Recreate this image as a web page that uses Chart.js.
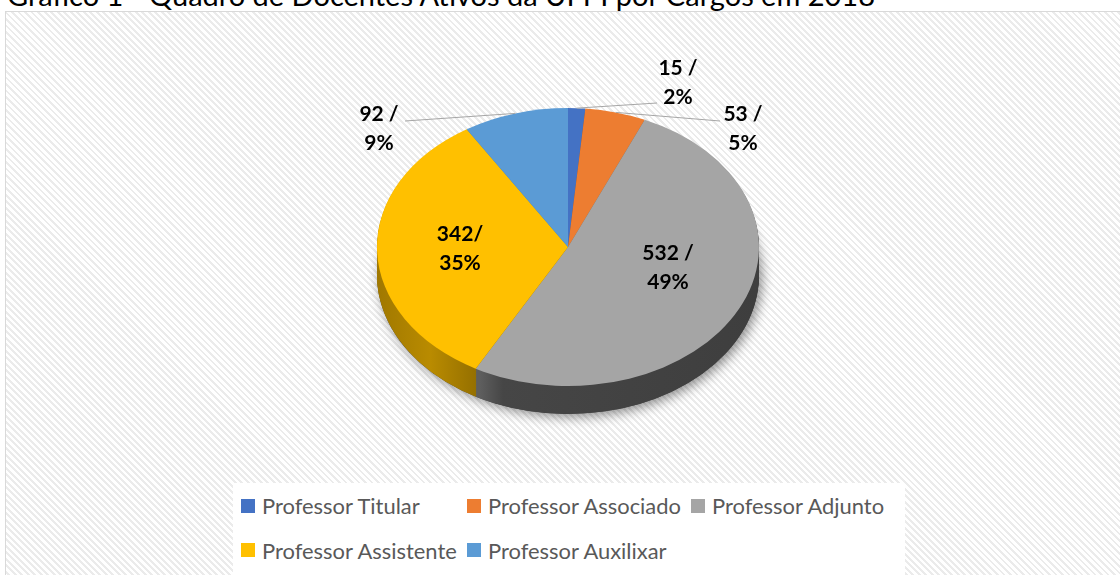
<!DOCTYPE html>
<html><head><meta charset="utf-8">
<script src="https://cdn.jsdelivr.net/npm/chart.js@4.4.1/dist/chart.umd.min.js"></script>
<style>
html,body{margin:0;padding:0;width:1120px;height:575px;overflow:hidden;background:#fff;}
#frame{position:absolute;left:5px;top:11px;width:1130px;height:580px;border:1px solid #d9d9d9;box-sizing:border-box;
background:repeating-linear-gradient(45deg,#ffffff 0px,#ffffff 2.6px,#ebebeb 2.6px,#ebebeb 4.6px);}
#title{position:absolute;left:7px;white-space:nowrap;font-family:Lato,"DejaVu Sans",sans-serif;color:#000;}
#chart{position:absolute;left:0;top:0;}
#legend{position:absolute;left:233px;top:483px;width:672px;height:100px;background:#fff;}
#legend .grid{position:absolute;left:8px;top:0;display:grid;grid-template-columns:auto auto auto;grid-template-rows:45px 44px;column-gap:9px;}
#legend .item{display:flex;align-items:center;white-space:nowrap;color:#595959;font-family:Lato,"DejaVu Sans",sans-serif;}
#legend .mk{display:inline-block;width:14px;height:14px;margin-right:7px;flex:none;}
#legend .tx{display:inline-block;overflow:visible;}
#legend .tx span{display:inline-block;transform-origin:0 50%;}
</style></head>
<body>
<div id="frame"></div>
<div id="title"></div>
<canvas id="chart" width="1120" height="575"></canvas>
<div id="legend"><div class="grid" id="lgrid"></div></div>
<script>
// ---- data ----
const chartTitle = 'Gráfico 1 - Quadro de Docentes Ativos da UFPI por Cargos em 2018';
const categories = ['Professor Titular','Professor Associado','Professor Adjunto','Professor Assistente','Professor Auxilixar'];
const docentes = [15, 53, 532, 342, 92];
const labelCounts = ['15 /', '53 /', '532 /', '342/', '92 /'];
const labelPercents = ['2%', '5%', '49%', '35%', '9%'];
const sliceColors = ['#4472C4', '#ED7D31', '#A5A5A5', '#FFC000', '#5B9BD5'];

// ---- layout / style ----
const PIE = {cx: 568, cy: 247, rx: 191, ry: 139, depth: 28};
const sideStops = [
  [[0,'#2f5597'],[1,'#2f5597']],
  [[0,'#a5531a'],[1,'#a5531a']],
  [[0.27,'#5e5e5e'],[0.33,'#464646'],[1,'#3e3e3e']],
  [[0,'#a07800'],[0.14,'#b98b00'],[0.29,'#8c6900']],
  [[0,'#3f75a8'],[1,'#3f75a8']]
];
const labelLayout = [
  {x: 678, y: 68, lx: 657, ly: 103, leader: true},
  {x: 743, y: 114, lx: 720, ly: 121, leader: true},
  {x: 668, y: 253, leader: false},
  {x: 460, y: 234, leader: false},
  {x: 379, y: 114, lx: 405, ly: 121, leader: true}
];
const LINE_GAP = 29;
const LEGEND_FONT = 22;

// ---- title & legend (HTML) ----
const mctx = document.createElement('canvas').getContext('2d');
function measure(text, size, weight){ mctx.font = weight + ' ' + size + 'px Lato'; return mctx.measureText(text).width; }
const tEl = document.getElementById('title');
const tSize = 100 * 870 / measure(chartTitle, 100, 'normal');
tEl.textContent = chartTitle;
tEl.style.fontSize = tSize + 'px';
tEl.style.lineHeight = tSize + 'px';
tEl.style.top = (6 - 0.887 * tSize) + 'px';

const sx = 196 / measure('Professor Assistente', LEGEND_FONT, 'normal');
const grid = document.getElementById('lgrid');
categories.forEach((c, i) => {
  const it = document.createElement('div'); it.className = 'item'; it.style.fontSize = LEGEND_FONT + 'px';
  const mk = document.createElement('span'); mk.className = 'mk'; mk.style.background = sliceColors[i];
  const tx = document.createElement('span'); tx.className = 'tx';
  tx.style.width = (measure(c, LEGEND_FONT, 'normal') * sx) + 'px';
  const inner = document.createElement('span'); inner.textContent = c; inner.style.transform = 'scaleX(' + sx + ')';
  tx.appendChild(inner);
  it.appendChild(mk); it.appendChild(tx); grid.appendChild(it);
});

// ---- 3D pie plugin ----
const k = PIE.ry / PIE.rx;
function squash(ctx, dy){ ctx.translate(PIE.cx, PIE.cy + dy); ctx.scale(1, k); ctx.translate(-PIE.cx, -PIE.cy); }
const pie3d = {
  id: 'pie3d',
  beforeDatasetsDraw(chart){
    const ctx = chart.ctx; const arcs = chart.getDatasetMeta(0).data;
    ctx.save(); squash(ctx, PIE.depth);
    ctx.shadowColor = 'rgba(0,0,0,0.45)'; ctx.shadowBlur = 12; ctx.shadowOffsetX = 3; ctx.shadowOffsetY = 3;
    ctx.fillStyle = '#404040';
    ctx.beginPath(); ctx.arc(arcs[0].x, arcs[0].y, arcs[0].outerRadius, 0, Math.PI * 2); ctx.fill();
    ctx.restore();
    const grads = sideStops.map(st => { const g = ctx.createLinearGradient(PIE.cx - PIE.rx, 0, PIE.cx + PIE.rx, 0); st.forEach(s => g.addColorStop(s[0], s[1])); return g; });
    for (let d = PIE.depth; d >= 1; d--) {
      ctx.save(); squash(ctx, d);
      arcs.forEach((a, i) => {
        ctx.beginPath(); ctx.moveTo(a.x, a.y);
        ctx.arc(a.x, a.y, a.outerRadius, a.startAngle, a.endAngle); ctx.closePath();
        ctx.fillStyle = grads[i]; ctx.fill();
      });
      ctx.restore();
    }
    ctx.save(); squash(ctx, 0);
  },
  afterDatasetsDraw(chart){
    const ctx = chart.ctx; ctx.restore();
    const arcs = chart.getDatasetMeta(0).data;
    ctx.save();
    ctx.strokeStyle = '#a6a6a6'; ctx.lineWidth = 1;
    arcs.forEach((a, i) => {
      const L = labelLayout[i];
      if (L.leader) {
        const m = (a.startAngle + a.endAngle) / 2;
        const ex = a.x + a.outerRadius * Math.cos(m), ey = a.y + k * a.outerRadius * Math.sin(m);
        ctx.beginPath(); ctx.moveTo(L.lx, L.ly); ctx.lineTo(ex, ey); ctx.stroke();
      }
    });
    ctx.fillStyle = '#000'; ctx.font = 'bold 21px Lato'; ctx.textAlign = 'center'; ctx.textBaseline = 'middle';
    arcs.forEach((a, i) => {
      const L = labelLayout[i];
      ctx.fillText(labelCounts[i], L.x, L.y);
      ctx.fillText(labelPercents[i], L.x, L.y + LINE_GAP);
    });
    ctx.restore();
  }
};

new Chart(document.getElementById('chart'), {
  type: 'pie',
  data: {labels: categories, datasets: [{data: docentes, backgroundColor: sliceColors, borderWidth: 0, radius: PIE.rx, clip: false}]},
  options: {
    responsive: false, animation: false, events: [], rotation: 0,
    layout: {padding: {left: Math.max(0, 2 * PIE.cx - 1120), right: Math.max(0, 1120 - 2 * PIE.cx), top: Math.max(0, 2 * PIE.cy - 575), bottom: Math.max(0, 575 - 2 * PIE.cy)}},
    plugins: {legend: {display: false}, tooltip: {enabled: false}, title: {display: false}}
  },
  plugins: [pie3d]
});
</script>
</body></html>
